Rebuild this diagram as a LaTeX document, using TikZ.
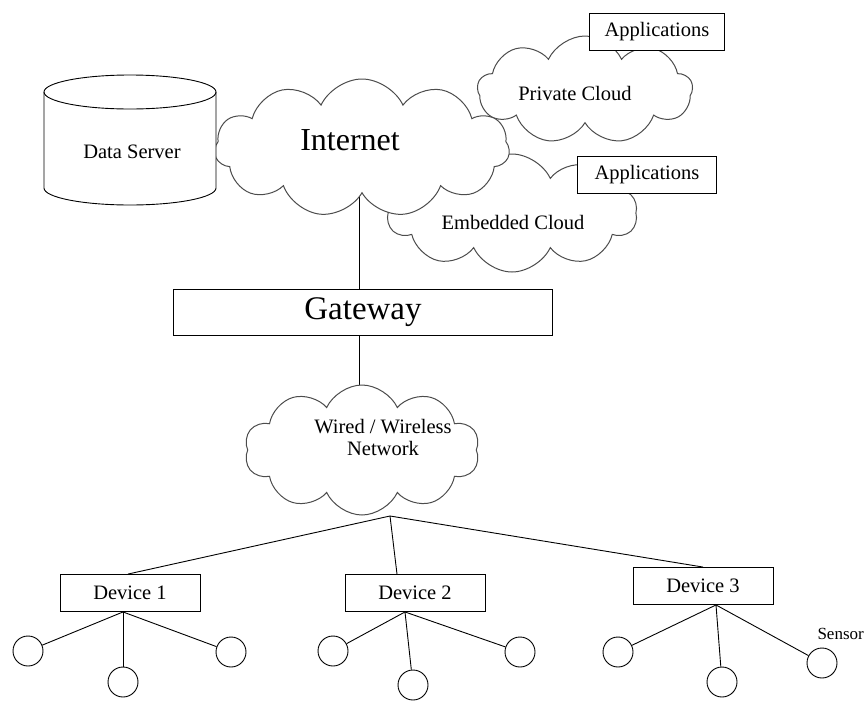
\documentclass[tikz,border=0pt]{standalone}
\usepackage{fontspec}
\setmainfont{Liberation Serif}
\usetikzlibrary{shapes.symbols,backgrounds}

\begin{document}
\begin{tikzpicture}[x=1pt, y=1pt,
    box/.style={draw, fill=white, line width=0.9pt, minimum height=37pt, inner sep=0pt, font=\fontsize{20.5}{23}\selectfont},
    puffcloud/.style={cloud, cloud puffs=#1, cloud puff arc=130, draw=black!70, line width=1pt, fill=white, inner sep=0pt},
    sensor/.style={circle, draw, line width=0.9pt, minimum size=30pt, inner sep=0pt},
    txt/.style={font=\fontsize{20.5}{22}\selectfont, align=center},
    link/.style={line width=0.9pt}]

    \useasboundingbox (0,0) rectangle (865,-702);

    % Side clouds (behind the Internet)
    \node[puffcloud=9, minimum width=215pt, minimum height=108pt] (pcloud) at (585,-90) {};
    \node[txt] (pcloudtxt) at (575,-93) {Private Cloud};
    \node[puffcloud=10, minimum width=250pt, minimum height=118pt] (ecloud) at (512,-213) {};
    \node[txt] (ecloudtxt) at (513,-222) {Embedded Cloud};

    % Internet
    \node[puffcloud=11, minimum width=295pt, minimum height=138pt] (inet) at (362,-148) {};
    \node[font=\fontsize{32}{36}\selectfont] (inettxt) at (350,-140) {Internet};

    % Applications
    \node[box, minimum width=135pt] (app1) at (657,-32) {Applications};
    \node[box, minimum width=139pt] (app2) at (647,-175) {Applications};

    % Data server
    \draw[link, fill=white] (44,-92) -- (44,-188)
        arc[start angle=180, end angle=360, x radius=86, y radius=17] -- (216,-92);
    \draw[link] (130,-92) ellipse[x radius=86, y radius=17];
    \node[txt] (dserver) at (132,-152) {Data Server};

    % Gateway
    \node[box, minimum width=379pt, minimum height=46pt, font=\fontsize{33}{36}\selectfont] (gw) at (363,-312) {Gateway};

    % Wired / wireless network
    \node[puffcloud=10, minimum width=235pt, minimum height=130pt] (net) at (362,-450) {};
    \node[txt] (nettxt) at (383,-437) {Wired / Wireless\\Network};
    \coordinate (hub) at (390,-516);

    \begin{scope}[on background layer]
        \draw[link] ([xshift=-4]gw.north) -- ([xshift=-4]gw.north |- inet.center);
        \draw[link] ([xshift=-4]gw.south) -- ([xshift=-4]gw.south |- net.center);
    \end{scope}

    % Devices
    \node[box, minimum width=140pt] (dev1) at (130,-593) {Device 1};
    \node[box, minimum width=140pt] (dev2) at (415,-593) {Device 2};
    \node[box, minimum width=140pt] (dev3) at (703,-586) {Device 3};
    \draw[link] (hub) -- ([xshift=-2]dev1.north);
    \draw[link] (hub) -- ([xshift=-18]dev2.north);
    \draw[link] (hub) -- (dev3.north);

    % Sensors
    \node[sensor] (s11) at (28,-651) {};
    \node[sensor] (s12) at (123,-682) {};
    \node[sensor] (s13) at (231,-652) {};
    \node[sensor] (s21) at (333,-651) {};
    \node[sensor] (s22) at (413,-685) {};
    \node[sensor] (s23) at (520,-652) {};
    \node[sensor] (s31) at (618,-652) {};
    \node[sensor] (s32) at (722,-682) {};
    \node[sensor] (s33) at (822,-663) {};
    \node[font=\fontsize{17}{20}\selectfont, anchor=west] (sensortxt) at (814,-634) {Sensor};

    \coordinate (foot1) at ([xshift=-7]dev1.south);
    \coordinate (foot2) at ([xshift=-10]dev2.south);
    \coordinate (foot3) at ([xshift=13]dev3.south);
    \foreach \s in {s11,s12,s13} \draw[link] (foot1) -- (\s);
    \foreach \s in {s21,s22,s23} \draw[link] (foot2) -- (\s);
    \foreach \s in {s31,s32,s33} \draw[link] (foot3) -- (\s);

\end{tikzpicture}
\end{document}
